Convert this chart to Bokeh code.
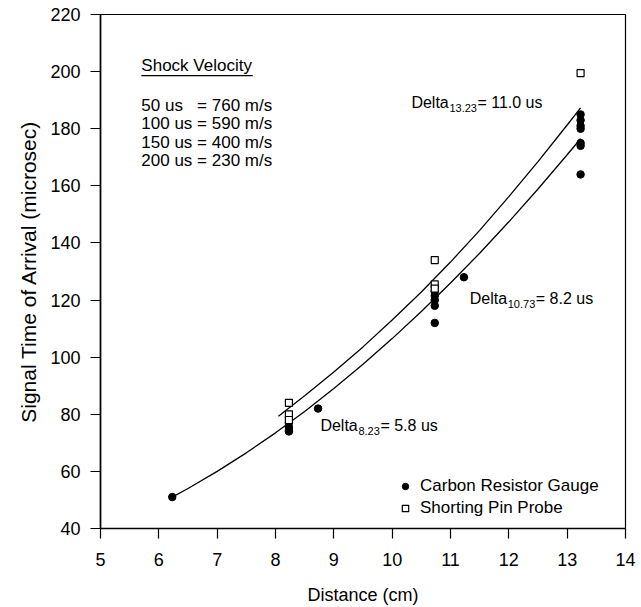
from bokeh.plotting import figure
from bokeh.models import FixedTicker, Legend, LegendItem
from bokeh.core.properties import value
from bokeh.embed import file_html
from bokeh.resources import INLINE

FONT = "Liberation Sans"

# ---- data ----
gauge_x = [6.23, 8.23, 8.23, 8.23, 8.23, 8.73,
           10.73, 10.73, 10.73, 10.73, 10.73, 11.23,
           13.23, 13.23, 13.23, 13.23, 13.23, 13.23, 13.23]
gauge_y = [51, 77, 75.5, 74.5, 74, 82,
           123, 121.5, 120, 118, 112, 128,
           185, 183, 181, 180, 175, 174, 164]

probe_x = [8.23, 8.23, 8.23, 10.73, 10.73, 10.73, 13.23]
probe_y = [84, 80, 78, 134, 125.5, 124, 199.5]

fit_gauge_x = [6.23, 6.5, 7.0, 7.5, 8.0, 8.5, 9.0, 9.5, 10.0, 10.5, 11.0, 11.5, 12.0, 12.5, 13.0, 13.23]
fit_gauge_y = [51, 54.0, 60.0, 66.5, 73.5, 81.0, 89.0, 97.5, 106.5, 116.0, 126.0, 136.4, 147.4, 158.9, 170.9, 176.5]

fit_probe_x = [8.05, 8.5, 9.0, 9.5, 10.0, 10.5, 11.0, 11.5, 12.0, 12.5, 13.0, 13.23]
fit_probe_y = [79.3, 86.5, 94.8, 103.6, 113.0, 122.8, 133.3, 144.4, 156.2, 168.5, 181.3, 187.3]

x_ticks = [5, 6, 7, 8, 9, 10, 11, 12, 13, 14]
y_ticks = [40, 60, 80, 100, 120, 140, 160, 180, 200, 220]

velocity_title = "Shock Velocity"
velocity_lines = ["50 us\u00a0\u00a0\u00a0= 760 m/s", "100 us = 590 m/s",
                  "150 us = 400 m/s", "200 us = 230 m/s"]

delta_subs = ["13.23", "10.73", "8.23"]
delta_vals = [" = 11.0 us", " = 8.2 us", " = 5.8 us"]

legend_labels = ["Carbon Resistor Gauge", "Shorting Pin Probe"]

# ---- figure ----
p = figure(width=641, height=607, x_range=(5, 14), y_range=(40, 220),
           output_backend="svg", toolbar_location=None,
           min_border_left=100, min_border_right=16,
           min_border_top=14, min_border_bottom=79)
p.background_fill_color = "white"
p.border_fill_color = "white"
p.outline_line_color = "black"
p.outline_line_width = 1.2
p.xgrid.visible = False
p.ygrid.visible = False

for ax, ticks in ((p.xaxis[0], x_ticks), (p.yaxis[0], y_ticks)):
    ax.ticker = FixedTicker(ticks=ticks)
    ax.minor_tick_line_color = None
    ax.major_tick_in = 0
    ax.major_tick_out = 10
    ax.major_tick_line_color = "black"
    ax.major_tick_line_width = 1.2
    ax.axis_line_color = "black"
    ax.axis_line_width = 1.6
    ax.major_label_text_font = FONT
    ax.major_label_text_font_size = "18px"
    ax.major_label_text_color = "black"
    ax.axis_label_text_font = FONT
    ax.axis_label_text_font_style = "normal"
    ax.axis_label_text_color = "black"

p.xaxis.axis_label = "Distance (cm)"
p.yaxis.axis_label = "Signal Time of Arrival (microsec)"
p.xaxis.axis_label_text_font_size = "18px"
p.yaxis.axis_label_text_font_size = "21px"
p.xaxis.major_label_standoff = 14
p.yaxis.major_label_standoff = 10
p.xaxis.axis_label_standoff = 16
p.yaxis.axis_label_standoff = 7

# fit curves
p.line(fit_gauge_x, fit_gauge_y, line_color="black", line_width=1.3)
p.line(fit_probe_x, fit_probe_y, line_color="black", line_width=1.3)

# points
r_gauge = p.scatter(gauge_x, gauge_y, marker="circle", size=7.5,
                    fill_color="black", line_color="black")
r_probe = p.scatter(probe_x, probe_y, marker="square", size=7,
                    fill_color="white", line_color="black", line_width=1.2)

# legend
legend = Legend(items=[LegendItem(label=legend_labels[0], renderers=[r_gauge]),
                       LegendItem(label=legend_labels[1], renderers=[r_probe])],
                location=(297, 10))
legend.label_text_font = FONT
legend.label_text_font_size = "17px"
legend.label_text_color = "black"
legend.glyph_width = 16
legend.glyph_height = 20
legend.label_height = 20
legend.label_standoff = 7
legend.spacing = 2
legend.padding = 0
legend.margin = 0
legend.border_line_color = None
legend.background_fill_alpha = 0
p.add_layout(legend)

# shock velocity annotation
ann_x = 5.70
title_y = 202.0
p.text([ann_x], [title_y], text=[velocity_title], text_font=value(FONT),
       text_font_size="17px", text_baseline="middle", text_align="left", text_color="black")
p.segment([ann_x], [title_y - 3.4], [ann_x + 1.91], [title_y - 3.4],
          line_color="black", line_width=1.3)
line_ys = [188.3, 181.8, 175.3, 168.8]
p.text([ann_x] * 4, line_ys, text=velocity_lines, text_font=value(FONT),
       text_font_size="17px", text_baseline="middle", text_align="left", text_color="black")

# delta annotations
delta_x = [10.33, 11.33, 8.77]
delta_y = [189.2, 120.6, 76.1]
p.text(delta_x, delta_y, text=["Delta"] * 3, text_font=value(FONT),
       text_font_size="16px", text_baseline="middle", text_align="left", text_color="black")
p.text(delta_x, delta_y, text=delta_subs, text_font=value(FONT),
       text_font_size="11px", text_baseline="middle", text_align="left", text_color="black",
       x_offset=38, y_offset=6)
rest_off = [38 + 28, 38 + 28, 38 + 22]
for xx, yy, t, off in zip(delta_x, delta_y, delta_vals, rest_off):
    p.text([xx], [yy], text=[t], text_font=value(FONT),
           text_font_size="16px", text_baseline="middle", text_align="left",
           text_color="black", x_offset=off)

open("out.html", "w").write(file_html(p, INLINE))
